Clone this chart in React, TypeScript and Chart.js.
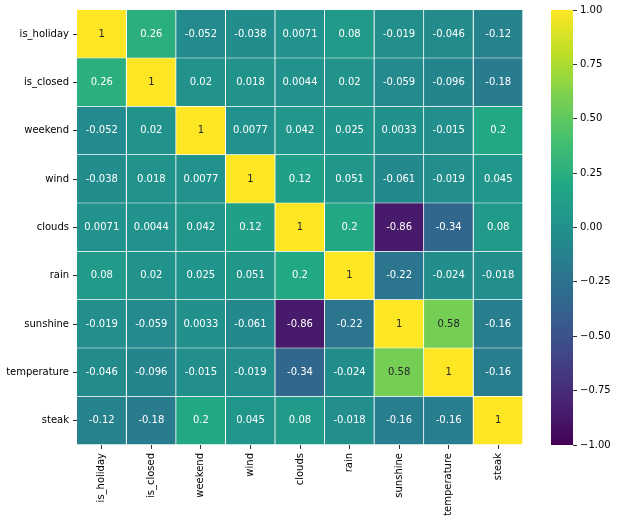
import React, { useEffect, useRef } from 'react';
import { Chart, registerables } from 'chart.js';

Chart.register(...registerables);

const LABELS = ['is_holiday', 'is_closed', 'weekend', 'wind', 'clouds', 'rain', 'sunshine', 'temperature', 'steak'];

const IS_HOLIDAY = [1, 0.26, -0.052, -0.038, 0.0071, 0.08, -0.019, -0.046, -0.12];
const IS_CLOSED = [0.26, 1, 0.02, 0.018, 0.0044, 0.02, -0.059, -0.096, -0.18];
const WEEKEND = [-0.052, 0.02, 1, 0.0077, 0.042, 0.025, 0.0033, -0.015, 0.2];
const WIND = [-0.038, 0.018, 0.0077, 1, 0.12, 0.051, -0.061, -0.019, 0.045];
const CLOUDS = [0.0071, 0.0044, 0.042, 0.12, 1, 0.2, -0.86, -0.34, 0.08];
const RAIN = [0.08, 0.02, 0.025, 0.051, 0.2, 1, -0.22, -0.024, -0.018];
const SUNSHINE = [-0.019, -0.059, 0.0033, -0.061, -0.86, -0.22, 1, 0.58, -0.16];
const TEMPERATURE = [-0.046, -0.096, -0.015, -0.019, -0.34, -0.024, 0.58, 1, -0.16];
const STEAK = [-0.12, -0.18, 0.2, 0.045, 0.08, -0.018, -0.16, -0.16, 1];

const MATRIX = [IS_HOLIDAY, IS_CLOSED, WEEKEND, WIND, CLOUDS, RAIN, SUNSHINE, TEMPERATURE, STEAK];

const CB_MIN = -1;
const CB_MAX = 1;
const CB_STEP = 0.25;

const VIRIDIS = ['#440154', '#482475', '#414487', '#355f8d', '#2a788e', '#21918c', '#22a884', '#44bf70', '#7ad151', '#bddf26', '#fde725'];

function hexToRgb(h: string): number[] {
  return [parseInt(h.slice(1, 3), 16), parseInt(h.slice(3, 5), 16), parseInt(h.slice(5, 7), 16)];
}

function viridisRgb(t: number): number[] {
  const c = Math.max(0, Math.min(1, t)) * (VIRIDIS.length - 1);
  const i = Math.min(VIRIDIS.length - 2, Math.floor(c));
  const f = c - i;
  const a = hexToRgb(VIRIDIS[i]);
  const b = hexToRgb(VIRIDIS[i + 1]);
  return [0, 1, 2].map((k) => Math.round(a[k] + (b[k] - a[k]) * f));
}

function colorFor(v: number): string {
  const [r, g, b] = viridisRgb((v - CB_MIN) / (CB_MAX - CB_MIN));
  return `rgb(${r},${g},${b})`;
}

function luminance(v: number): number {
  const rgb = viridisRgb((v - CB_MIN) / (CB_MAX - CB_MIN)).map((c) => {
    const s = c / 255;
    return s <= 0.03928 ? s / 12.92 : Math.pow((s + 0.055) / 1.055, 2.4);
  });
  return 0.2126 * rgb[0] + 0.7152 * rgb[1] + 0.0722 * rgb[2];
}

const FONT = { family: '"DejaVu Sans", sans-serif', size: 10 };

const annotPlugin = {
  id: 'annot',
  afterDatasetsDraw(chart: any) {
    const ctx = chart.ctx;
    ctx.save();
    ctx.font = '10px "DejaVu Sans", sans-serif';
    ctx.textAlign = 'center';
    ctx.textBaseline = 'middle';
    chart.data.datasets.forEach((_ds: any, j: number) => {
      const meta = chart.getDatasetMeta(j);
      meta.data.forEach((el: any, i: number) => {
        const v = MATRIX[i][j];
        const p = el.getCenterPoint();
        ctx.fillStyle = luminance(v) > 0.408 ? '#262626' : '#ffffff';
        ctx.fillText(String(v), p.x, p.y);
      });
    });
    ctx.restore();
  },
};

const colorbarPlugin = {
  id: 'colorbar',
  afterDatasetsDraw(chart: any) {
    const gap = chart.scales.gap;
    const cb = chart.scales.cb;
    const ctx = chart.ctx;
    const x1 = gap.right;
    const x0 = x1 - 22;
    const top = cb.getPixelForValue(CB_MAX);
    const bottom = cb.getPixelForValue(CB_MIN);
    const grad = ctx.createLinearGradient(0, bottom, 0, top);
    VIRIDIS.forEach((c, i) => grad.addColorStop(i / (VIRIDIS.length - 1), c));
    ctx.save();
    ctx.fillStyle = grad;
    ctx.fillRect(x0, top, x1 - x0, bottom - top);
    ctx.restore();
  },
};

export default function App() {
  const ref = useRef<HTMLCanvasElement>(null);
  useEffect(() => {
    if (!ref.current) return;
    const datasets = LABELS.map((col, j) => ({
      label: col,
      data: LABELS.map(() => 1),
      backgroundColor: LABELS.map((_r, i) => colorFor(MATRIX[i][j])),
      borderColor: '#ffffff',
      borderWidth: { top: 0, left: 0, right: 1, bottom: 1 },
      borderSkipped: false,
      barPercentage: 1,
      categoryPercentage: 1,
      xAxisID: 'x',
      yAxisID: 'y',
    }));
    const chart = new Chart(ref.current, {
      type: 'bar',
      data: { labels: LABELS, datasets: datasets as any },
      options: {
        indexAxis: 'y',
        animation: false,
        responsive: false,
        maintainAspectRatio: false,
        layout: { padding: { top: 10, left: 0, right: 0, bottom: 0 } },
        plugins: { legend: { display: false }, tooltip: { enabled: false } },
        scales: {
          x: { type: 'linear', stacked: true, min: 0, max: LABELS.length, display: false },
          xc: {
            type: 'category',
            labels: LABELS,
            position: 'bottom',
            offset: true,
            grid: { offset: false, drawOnChartArea: false, drawTicks: true, tickLength: 4, color: '#333' },
            border: { display: false },
            ticks: { minRotation: 90, maxRotation: 90, autoSkip: false, padding: 4, color: '#000', font: FONT },
            afterFit: (s: any) => { s.height = 77; },
          },
          y: {
            type: 'category',
            stacked: true,
            offset: true,
            grid: { offset: false, drawOnChartArea: false, drawTicks: true, tickLength: 4, color: '#333' },
            border: { display: false },
            ticks: { autoSkip: false, padding: 4, color: '#000', font: FONT },
            afterFit: (s: any) => { s.width = 77; },
          },
          gap: {
            type: 'linear',
            position: 'right',
            weight: 0,
            offset: false,
            display: true,
            grid: { display: false, offset: false },
            border: { display: false },
            ticks: { display: false },
            afterFit: (s: any) => { s.width = 50; },
          },
          cb: {
            type: 'linear',
            position: 'right',
            weight: 1,
            offset: false,
            min: CB_MIN,
            max: CB_MAX,
            grid: { offset: false, drawOnChartArea: false, drawTicks: true, tickLength: 4, color: '#333' },
            border: { display: false },
            ticks: {
              stepSize: CB_STEP,
              padding: 3,
              color: '#000',
              font: FONT,
              callback: (v: any) => (Number(v) < 0 ? '\u2212' : '') + Math.abs(Number(v)).toFixed(2),
            },
            afterFit: (s: any) => { s.width = 44; },
          },
        } as any,
      },
      plugins: [annotPlugin, colorbarPlugin],
    });
    return () => chart.destroy();
  }, []);
  return (
    <div style={{ position: 'fixed', left: 0, top: 0, width: 617, height: 522, background: '#fff' }}>
      <canvas ref={ref} width={617} height={522} style={{ width: 617, height: 522 }} />
    </div>
  );
}
